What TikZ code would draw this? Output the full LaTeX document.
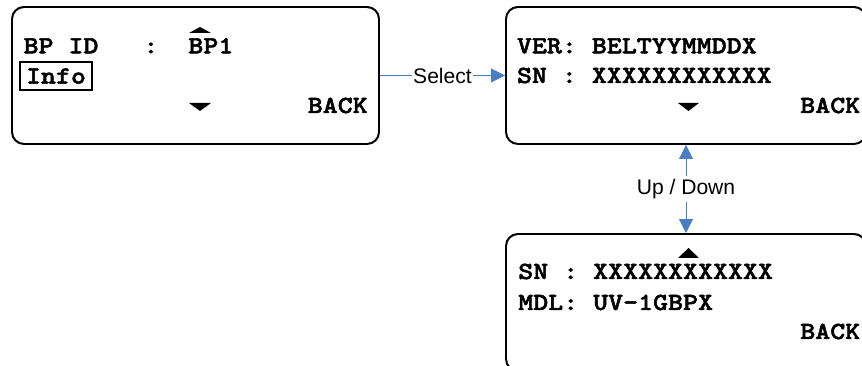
\documentclass[tikz,border=0pt]{standalone}
\usepackage{fontspec}
\setmainfont{Liberation Sans}
\newfontfamily\lcdfont{lmmonolt10-bold.otf}[FakeStretch=1.16,FakeBold=2]
\usetikzlibrary{arrows.meta,positioning}
\definecolor{linkBlue}{HTML}{4A7EC4}
\tikzset{
  font=\fontsize{15}{18}\selectfont,
  screen/.style={rectangle,rounded corners=0.3cm,draw=black,line width=1.4pt,
    minimum height=3.425cm,inner sep=0pt},
  lcd/.style={font=\lcdfont\fontsize{17.5}{20}\selectfont,inner sep=0pt},
  selbox/.style={draw=black,line width=1pt,inner xsep=0.15cm,inner ysep=0pt,minimum height=0.7cm},
  link/.style={draw=linkBlue,line width=0.7pt,-{Triangle[length=0.35cm,width=0.35cm]}},
  linklabel/.style={fill=white,inner xsep=1pt,inner ysep=2pt},
}

\begin{document}
\begin{tikzpicture}[x=1cm,y=1cm]

\useasboundingbox (0,0) rectangle (21.55,9.15);
\clip (0,0) rectangle (21.55,9.15);

% screens
\node[screen,minimum width=9.175cm] (bpid)   at (4.8875,7.2625) {};
\node[screen,minimum width=9.0cm]   (verscr) at (17.15,7.2625) {};
\node[screen,minimum width=9.0cm]   (snscr)  at (17.15,1.5875) {};

% BP ID screen
\node[lcd,anchor=base west] (bpline) at (0.5825,7.8175) {BP~ID~~~:~~BP1};
\node[lcd,selbox] (info) at (1.4,7.25) {Info};
\node[lcd,anchor=base east] (back1) at (9.2,6.325) {BACK};
\fill (4.725,8.325) -- (5.275,8.325) -- (5.0,8.475) -- cycle;
\fill (4.725,6.575) -- (5.275,6.575) -- (5.0,6.375) -- cycle;

% version screen
\node[lcd,anchor=base west] (verline) at (12.9175,7.8175) {VER:~BELTYYMMDDX};
\node[lcd,anchor=base west] (snline1) at (12.9175,7.075) {SN~:~XXXXXXXXXXXX};
\node[lcd,anchor=base west] (back2) at (20.0,6.325) {BACK};
\fill (16.95,6.575) -- (17.475,6.575) -- (17.2125,6.375) -- cycle;

% serial / model screen
\fill (16.95,2.7) -- (17.475,2.7) -- (17.2125,2.95) -- cycle;
\node[lcd,anchor=base west] (snline2) at (12.95,2.175) {SN~:~XXXXXXXXXXXX};
\node[lcd,anchor=base west] (mdlline) at (12.95,1.4) {MDL:~UV-1GBPX};
\node[lcd,anchor=base west] (back3) at (20.0,0.675) {BACK};

% transitions
\draw[link] (bpid.east) -- node[linklabel] (sel) {Select} (verscr.west);
\draw[link,{Triangle[length=0.35cm,width=0.35cm]}-{Triangle[length=0.35cm,width=0.35cm]}]
  (verscr.south) -- node[linklabel] (updown) {Up / Down} (snscr.north);

\end{tikzpicture}
\end{document}
